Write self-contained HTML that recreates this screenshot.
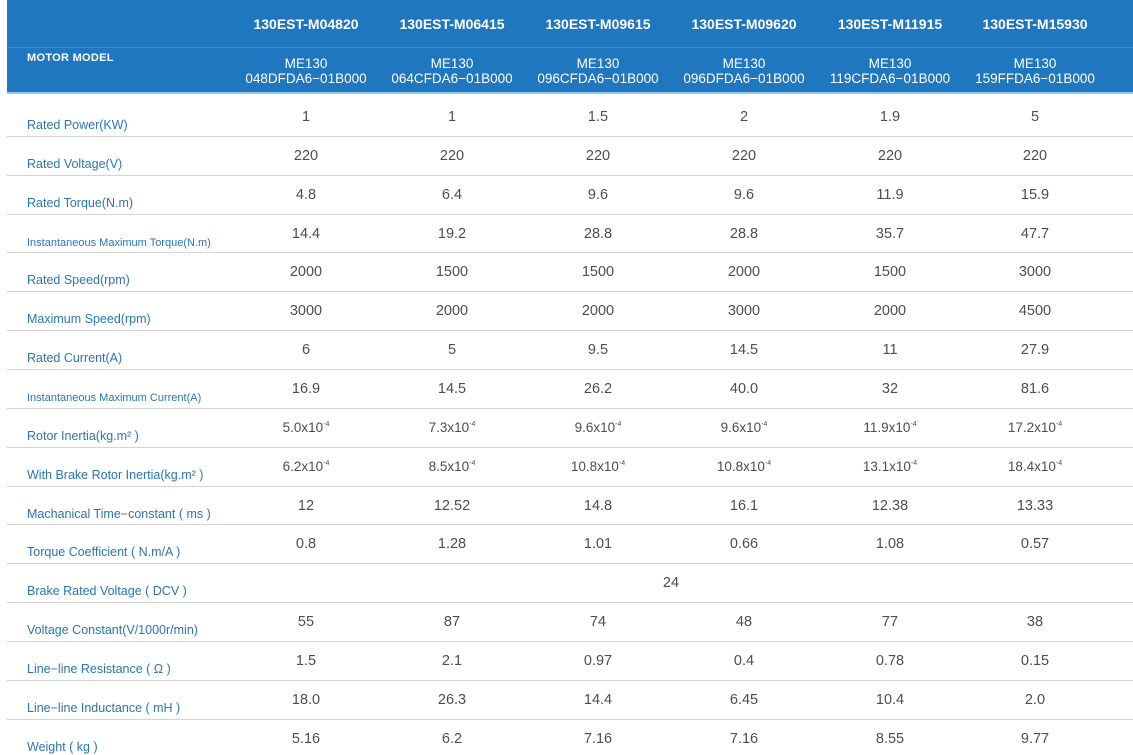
<!DOCTYPE html><html><head><style>
body{margin:0;width:1133px;height:755px;background:#fff;position:relative;overflow:hidden;font-family:"Liberation Sans",sans-serif}
.hd{position:absolute;left:7px;top:0;width:1126px;height:92px;background:#1f77c0;border-bottom:2px solid #8ec9f2}
.hl{position:absolute;left:7px;top:47px;width:1126px;height:1px;background:#3d8bcc}
.t{position:absolute;white-space:nowrap}
.c{transform:translateX(-50%);text-align:center}
.h1{color:#fff;font-weight:bold;font-size:14px;top:16px}
.h2{color:#fff;font-size:13.5px;top:56px;line-height:15px}
.lbl{color:#2a76b5;font-size:12.5px;left:27px}
.v{color:#4d4d4d;font-size:14.5px}
.ln{position:absolute;left:7px;width:1126px;height:1px;background:#d3d3d3}
sup{font-size:7px;vertical-align:6px}
</style></head><body>
<div class="hd"></div><div class="hl"></div>
<div class="t" style="left:27px;top:52px;color:#fff;font-weight:bold;font-size:11px;letter-spacing:0.3px">MOTOR MODEL</div>
<div id="g"></div>
<script>
const xs=[306,452,598,744,890,1035];
const h1=["130EST-M04820","130EST-M06415","130EST-M09615","130EST-M09620","130EST-M11915","130EST-M15930"];
const h2=["048DFDA6−01B000","064CFDA6−01B000","096CFDA6−01B000","096DFDA6−01B000","119CFDA6−01B000","159FFDA6−01B000"];
let s="";
xs.forEach((x,i)=>{s+=`<div class="t c h1" style="left:${x}px">${h1[i]}</div><div class="t c h2" style="left:${x}px">ME130<br>${h2[i]}</div>`;});
const rows=[
["Rated Power(KW)",[1,1,1.5,2,1.9,5]],
["Rated Voltage(V)",[220,220,220,220,220,220]],
["Rated Torque(N.m)",[4.8,6.4,9.6,9.6,11.9,15.9]],
["<span style='font-size:11px'>Instantaneous Maximum Torque(N.m)</span>",[14.4,19.2,28.8,28.8,35.7,47.7]],
["Rated Speed(rpm)",[2000,1500,1500,2000,1500,3000]],
["Maximum Speed(rpm)",[3000,2000,2000,3000,2000,4500]],
["Rated Current(A)",[6,5,9.5,14.5,11,27.9]],
["<span style='font-size:11px'>Instantaneous Maximum Current(A)</span>",["16.9","14.5","26.2","40.0","32","81.6"]],
["Rotor Inertia(kg.m² )",["5.0","7.3","9.6","9.6","11.9","17.2"],1],
["With Brake Rotor Inertia(kg.m² )",["6.2","8.5","10.8","10.8","13.1","18.4"],1],
["Machanical Time−constant ( ms )",[12,12.52,14.8,16.1,12.38,13.33]],
["Torque Coefficient ( N.m/A )",[0.8,1.28,1.01,0.66,1.08,0.57]],
["Brake Rated Voltage ( DCV )",null],
["Voltage Constant(V/1000r/min)",[55,87,74,48,77,38]],
["Line−line Resistance ( Ω )",[1.5,2.1,0.97,0.4,0.78,0.15]],
["Line−line Inductance ( mH )",["18.0","26.3","14.4","6.45","10.4","2.0"]],
["Weight ( kg )",[5.16,6.2,7.16,7.16,8.55,9.77]]];
const rh=38.85;
rows.forEach((r,i)=>{const y=97+i*rh;
s+=`<div class="t lbl" style="top:${y+21}px">${r[0]}</div>`;
if(r[1]){r[1].forEach((v,j)=>{s+=r[2]?`<div class="t c v" style="left:${xs[j]}px;top:${y+12}px;font-size:13.5px">${v}x10<sup>-4</sup></div>`:`<div class="t c v" style="left:${xs[j]}px;top:${y+12}px">${v}</div>`;});}
else s+=`<div class="t c v" style="left:671px;top:${y+12}px">24</div>`;
if(i<16)s+=`<div class="ln" style="top:${Math.round(y+rh)}px"></div>`;});
document.getElementById("g").innerHTML=s;
</script>
</body></html>
